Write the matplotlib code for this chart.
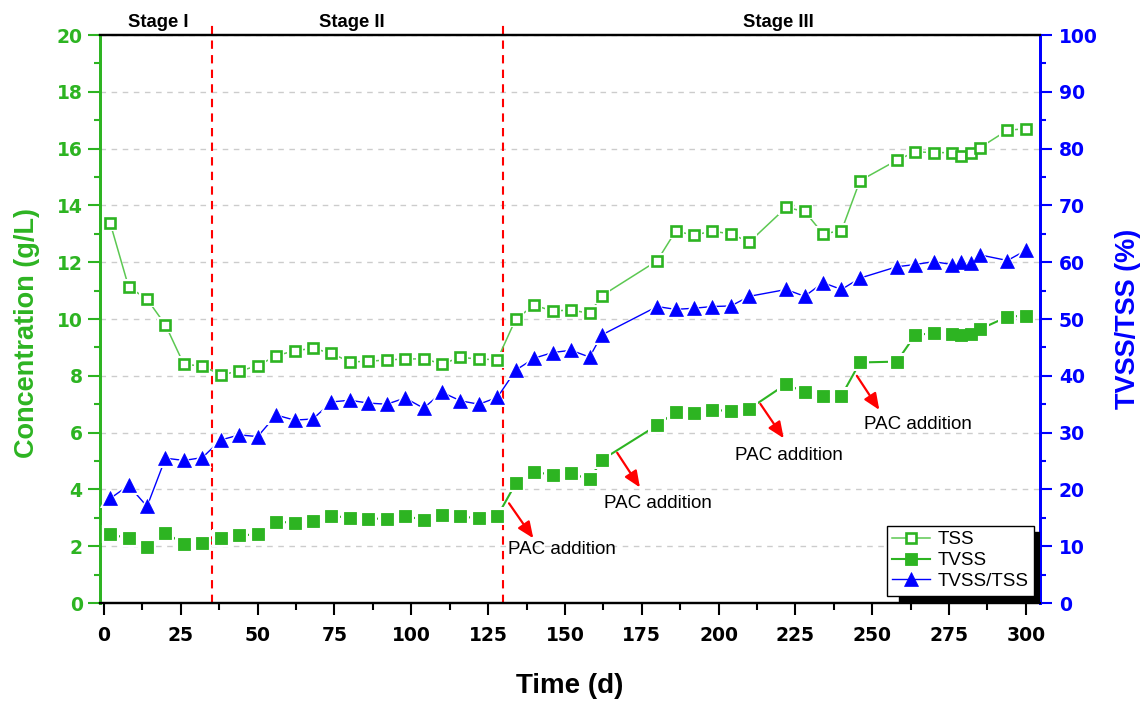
import matplotlib
matplotlib.use("Agg")
import matplotlib.pyplot as plt
from matplotlib.lines import Line2D
from matplotlib.patches import Rectangle
from matplotlib.ticker import MultipleLocator

# --- data ---
days = [2, 8, 14, 20, 26, 32, 38, 44, 50, 56, 62, 68, 74, 80, 86, 92, 98, 104, 110, 116, 122, 128,
        134, 140, 146, 152, 158, 162, 180, 186, 192, 198, 204, 210, 222, 228, 234, 240, 246,
        258, 264, 270, 276, 279, 282, 285, 294, 300]
tss = [13.38, 11.13, 10.70, 9.79, 8.40, 8.35, 8.03, 8.17, 8.35, 8.71, 8.88, 8.97, 8.79, 8.49,
       8.51, 8.56, 8.59, 8.60, 8.42, 8.65, 8.59, 8.57,
       10.00, 10.49, 10.28, 10.32, 10.20, 10.82, 12.05, 13.09, 12.96, 13.09, 13.00, 12.71,
       13.93, 13.79, 13.00, 13.11, 14.87, 15.59, 15.89, 15.86, 15.86, 15.74, 15.86, 16.03,
       16.65, 16.70]
tvss = [2.42, 2.28, 1.98, 2.48, 2.07, 2.12, 2.29, 2.38, 2.42, 2.86, 2.83, 2.90, 3.07, 3.00,
        2.97, 2.97, 3.07, 2.92, 3.09, 3.05, 2.98, 3.06,
        4.21, 4.62, 4.51, 4.57, 4.35, 5.04, 6.26, 6.73, 6.68, 6.80, 6.76, 6.84, 7.71, 7.42,
        7.30, 7.30, 8.47, 8.50, 9.44, 9.50, 9.46, 9.44, 9.46, 9.64, 10.08, 10.12]
ratio = [18.4, 20.7, 17.0, 25.5, 25.1, 25.6, 28.7, 29.6, 29.3, 33.1, 32.2, 32.4, 35.4, 35.7,
         35.2, 35.0, 36.1, 34.3, 37.1, 35.6, 35.0, 36.2,
         41.0, 43.1, 44.1, 44.5, 43.3, 47.2, 52.2, 51.7, 51.9, 52.2, 52.3, 54.0, 55.2, 54.0,
         56.4, 55.2, 57.2, 59.2, 59.6, 60.1, 59.6, 60.0, 59.8, 61.3, 60.3, 62.1]

stage_bounds = [35, 130]
stage_names = ["Stage I", "Stage II", "Stage III"]
stage_label_x = [17.5, 80.5, 219.5]

# PAC addition arrows: (start, end) in (day, g/L), plus text position
pac_arrow_start = [(131.8, 3.51), (167.0, 5.29), (213.6, 7.01), (245.0, 8.00)]
pac_arrow_end = [(139.7, 2.28), (174.4, 4.07), (221.2, 5.80), (252.3, 6.80)]
pac_text_pos = [(148.9, 1.87), (180.4, 3.51), (222.8, 5.19), (264.9, 6.30)]

green = "#2db422"
light_green = "#5cc852"
blue = "#0000ff"
tick_font = {"family": "DejaVu Sans", "weight": "bold", "size": 13.5}
plt.rcParams["font.family"] = ["Liberation Sans", "DejaVu Sans"]

fig = plt.figure(figsize=(11.46, 7.01), dpi=100)
ax = fig.add_axes([0.0873, 0.1398, 0.8202, 0.8102])
ax2 = ax.twinx()


def series(axis, x, y, marker, ms, color, lcolor, lw, mfc, mew, z):
    axis.plot(x, y, "-", color=lcolor, lw=lw, zorder=z)
    # white halo so the line stops short of each marker (Origin style)
    axis.plot(x, y, ls="none", marker=marker, ms=ms + 4.5, mfc="white", mec="white",
              mew=0, zorder=z + 0.1)
    axis.plot(x, y, ls="none", marker=marker, ms=ms, mfc=mfc, mec=color, mew=mew,
              zorder=z + 0.2)


series(ax, days, tss, "s", 7.4, green, light_green, 1.1, "white", 1.9, 3)
series(ax, days, tvss, "s", 8.3, green, green, 1.5, green, 0.6, 3)
series(ax2, days, ratio, "^", 10, blue, blue, 1.0, blue, 0.5, 3)

# axes limits and ticks
ax.set_xlim(-1.3, 304.6)
ax.set_ylim(0, 20)
ax2.set_ylim(0, 100)
ax.xaxis.set_major_locator(MultipleLocator(25))
ax.xaxis.set_minor_locator(MultipleLocator(12.5))
ax.yaxis.set_major_locator(MultipleLocator(2))
ax.yaxis.set_minor_locator(MultipleLocator(1))
ax2.yaxis.set_major_locator(MultipleLocator(10))
ax2.yaxis.set_minor_locator(MultipleLocator(5))

ax.yaxis.grid(True, which="major", linestyle=(0, (4, 4)), color="#cccccc", lw=1)
ax.set_axisbelow(True)

ax.tick_params(axis="x", which="major", direction="out", length=8.5, width=1.5, pad=8, colors="black")
ax.tick_params(axis="x", which="minor", direction="out", length=5, width=1.5)
ax.tick_params(axis="y", which="major", direction="out", length=8.5, width=1.5, pad=4,
               colors=green)
ax.tick_params(axis="y", which="minor", direction="out", length=4.5, width=1.5, colors=green)
ax2.tick_params(axis="y", which="major", direction="out", length=8.5, width=1.5, pad=5,
                colors=blue)
ax2.tick_params(axis="y", which="minor", direction="out", length=4.5, width=1.5, colors=blue)
for lab in ax.get_xticklabels() + ax.get_yticklabels() + ax2.get_yticklabels():
    lab.set_fontproperties(tick_font)

for a in (ax, ax2):
    a.spines["left"].set_color(green)
    a.spines["left"].set_linewidth(2)
    a.spines["right"].set_color(blue)
    a.spines["right"].set_linewidth(2)
    a.spines["top"].set_color("black")
    a.spines["top"].set_linewidth(1.6)
    a.spines["bottom"].set_color("black")
    a.spines["bottom"].set_linewidth(1.6)

ax.set_xlabel("Time (d)", fontsize=20, fontweight="bold")
ax.xaxis.set_label_coords(0.5, -0.123)
ax.set_ylabel("Concentration (g/L)", fontsize=19.5, fontweight="bold", color=green)
ax.yaxis.set_label_coords(-0.064, 0.475)
ax2.set_ylabel("TVSS/TSS (%)", fontsize=19.5, fontweight="bold", color=blue)
ax2.yaxis.set_label_coords(1.080, 0.5)

# stage separators and labels
for b in stage_bounds:
    ax.plot([b, b], [0, 20.45], color="red", lw=1.5, ls=(0, (4, 3)), clip_on=False, zorder=2)
for name, xs in zip(stage_names, stage_label_x):
    ax.text(xs, 20.15, name, ha="center", va="bottom", fontsize=13.3, fontweight="bold")

# PAC addition arrows
for s, e, t in zip(pac_arrow_start, pac_arrow_end, pac_text_pos):
    ax.annotate("", xy=e, xytext=s,
                arrowprops=dict(arrowstyle="-|>,head_length=0.7,head_width=0.3",
                                color="red", lw=1.6, shrinkA=0, shrinkB=0, mutation_scale=14))
    ax.text(t[0], t[1], "PAC addition", ha="center", va="center", fontsize=13.5)

# legend with a black drop shadow
handles = [
    Line2D([], [], color=light_green, lw=1.1, marker="s", ms=7.4, mfc="white", mec=green, mew=1.9),
    Line2D([], [], color=green, lw=1.5, marker="s", ms=8.3, mfc=green, mec=green, mew=0.6),
    Line2D([], [], color=blue, lw=1.0, marker="^", ms=10, mfc=blue, mec=blue, mew=0.5),
]
ax2.add_patch(Rectangle((0.85, 0), 0.15, 0.125, transform=ax2.transAxes, color="black",
                        zorder=6, clip_on=True))
leg = ax2.legend(handles, ["TSS", "TVSS", "TVSS/TSS"], loc="lower right",
                 bbox_to_anchor=(0.9936, 0.0129), borderaxespad=0, fontsize=13.5,
                 fancybox=False, framealpha=1, edgecolor="black", handlelength=2.0,
                 handletextpad=0.4, labelspacing=0.2, borderpad=0.3)
leg.get_frame().set_linewidth(1.0)
leg.set_zorder(7)

fig.savefig("out.png", dpi=100)
